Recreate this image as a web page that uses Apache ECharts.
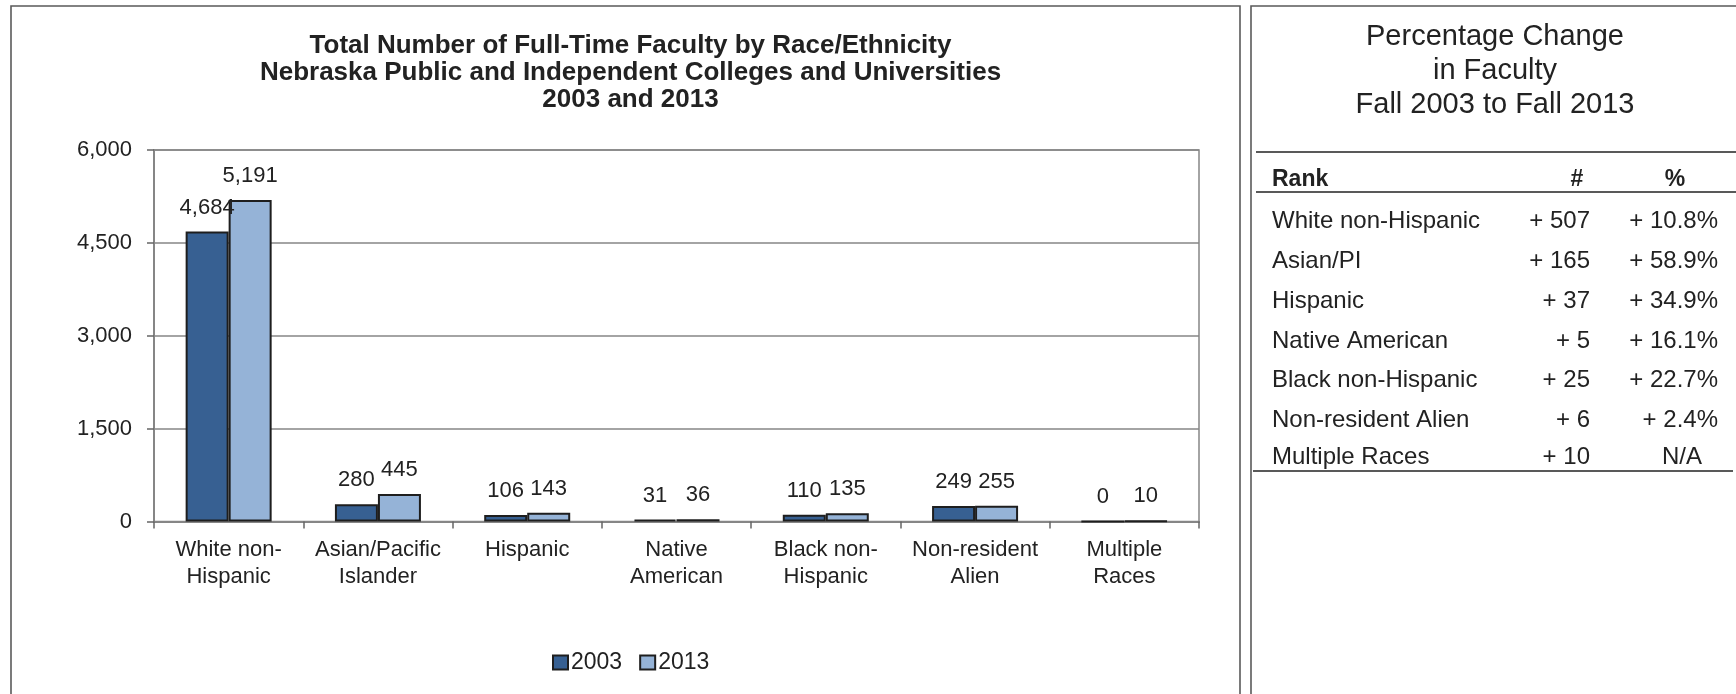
<!DOCTYPE html>
<html>
<head>
<meta charset="utf-8">
<script src="https://cdn.jsdelivr.net/npm/echarts@6/dist/echarts.min.js"></script>
<style>
html,body{margin:0;padding:0;background:#fff;}
#chart{width:1736px;height:694px;}
</style>
</head>
<body>
<div id="chart"></div>
<script>
// ---- data ----
const categories = ["White non-\nHispanic", "Asian/Pacific\nIslander", "Hispanic", "Native\nAmerican", "Black non-\nHispanic", "Non-resident\nAlien", "Multiple\nRaces"];
const seriesNames = ["2003", "2013"];
const values2003 = [4684, 280, 106, 31, 110, 249, 0];
const values2013 = [5191, 445, 143, 36, 135, 255, 10];
const yTicks = [0, 1500, 3000, 4500, 6000];

const chartTitle = ["Total Number of Full-Time Faculty by Race/Ethnicity", "Nebraska Public and Independent Colleges and Universities", "2003 and 2013"];
const tableTitle = ["Percentage Change", "in Faculty", "Fall 2003 to Fall 2013"];
const tableHeader = ["Rank", "#", "%"];
const tableRows = ["White non-Hispanic", "Asian/PI", "Hispanic", "Native American", "Black non-Hispanic", "Non-resident Alien", "Multiple Races"];
const tableChange = [507, 165, 37, 5, 25, 6, 10];
const tablePct = ["10.8", "58.9", "34.9", "16.1", "22.7", "2.4", null];

// ---- rendering ----
const FONT = "'Liberation Sans', Arial, sans-serif";
const TXT = '#222';
const chart = echarts.init(document.getElementById('chart'), null, {renderer: 'canvas'});

const graphics = [];
// panel borders
graphics.push({type: 'rect', shape: {x: 11, y: 6, width: 1229, height: 720}, style: {fill: 'none', stroke: '#5a5a5a', lineWidth: 1.6}, silent: true});
graphics.push({type: 'rect', shape: {x: 1251, y: 6, width: 520, height: 720}, style: {fill: 'none', stroke: '#5a5a5a', lineWidth: 1.6}, silent: true});

// table title
const ttY = [36.7, 70.7, 104.7];
tableTitle.forEach((t, i) => graphics.push({type: 'text', silent: true, style: {text: t, x: 1495, y: ttY[i], textAlign: 'center', textVerticalAlign: 'middle', fontSize: 29, fontFamily: FONT, fill: TXT}}));
// lines
const hline = (y, x1, x2) => graphics.push({type: 'line', silent: true, shape: {x1: x1, y1: y, x2: x2, y2: y}, style: {stroke: '#222', lineWidth: 1.5}});
hline(152, 1256, 1736);
hline(192, 1256, 1736);
hline(471, 1253, 1733);
// header
const hdrStyle = {fontSize: 23, fontWeight: 'bold', fontFamily: FONT, fill: TXT, textVerticalAlign: 'middle'};
graphics.push({type: 'text', silent: true, style: Object.assign({text: tableHeader[0], x: 1272, y: 180, textAlign: 'left'}, hdrStyle)});
graphics.push({type: 'text', silent: true, style: Object.assign({text: tableHeader[1], x: 1577, y: 180, textAlign: 'center'}, hdrStyle)});
graphics.push({type: 'text', silent: true, style: Object.assign({text: tableHeader[2], x: 1675, y: 180, textAlign: 'center'}, hdrStyle)});
// rows
const rowY = [221, 261, 301, 341, 380.5, 420.5, 457];
const rowStyle = {fontSize: 24, fontFamily: FONT, fill: TXT, textVerticalAlign: 'middle'};
tableRows.forEach((r, i) => {
  graphics.push({type: 'text', silent: true, style: Object.assign({text: r, x: 1272, y: rowY[i], textAlign: 'left'}, rowStyle)});
  graphics.push({type: 'text', silent: true, style: Object.assign({text: '+ ' + tableChange[i], x: 1590, y: rowY[i], textAlign: 'right'}, rowStyle)});
  const p = tablePct[i];
  if (p === null) {
    graphics.push({type: 'text', silent: true, style: Object.assign({text: 'N/A', x: 1682, y: rowY[i], textAlign: 'center'}, rowStyle)});
  } else {
    graphics.push({type: 'text', silent: true, style: Object.assign({text: '+ ' + p + '%', x: 1718, y: rowY[i], textAlign: 'right'}, rowStyle)});
  }
});

const labelCfg = {show: true, position: 'top', distance: 13, fontSize: 22, fontFamily: FONT, color: TXT,
  formatter: p => p.value.toLocaleString('en-US')};

chart.setOption({
  animation: false,
  backgroundColor: '#fff',
  textStyle: {fontFamily: FONT},
  title: {
    text: chartTitle.join('\n'),
    left: 625.5, top: 28, textAlign: 'center',
    textStyle: {fontSize: 26, fontWeight: 'bold', fontFamily: FONT, color: TXT, lineHeight: 26.6}
  },
  legend: {
    data: seriesNames, left: 547, top: 646,
    icon: 'rect', itemWidth: 15, itemHeight: 14, itemGap: 17,
    textStyle: {fontSize: 23, fontFamily: FONT, color: TXT, padding: [0, 0, 0, -2]}
  },
  grid: {left: 154, right: 537, top: 150, bottom: 172.5, show: true, borderColor: '#868686', borderWidth: 1.5, containLabel: false},
  xAxis: {
    type: 'category', data: categories,
    axisLine: {lineStyle: {color: '#868686', width: 2}},
    axisTick: {show: true, length: 7, lineStyle: {color: '#666', width: 1.5}},
    axisLabel: {fontSize: 22, fontFamily: FONT, color: TXT, margin: 15, lineHeight: 27, interval: 0}
  },
  yAxis: {
    type: 'value', min: yTicks[0], max: yTicks[yTicks.length - 1], interval: yTicks[1] - yTicks[0],
    axisLine: {show: true, lineStyle: {color: '#868686', width: 2}},
    axisTick: {show: true, length: 7, lineStyle: {color: '#666', width: 1.5}},
    splitLine: {lineStyle: {color: '#868686', width: 1.5}},
    axisLabel: {fontSize: 22, fontFamily: FONT, color: TXT, margin: 22, formatter: v => v.toLocaleString('en-US')}
  },
  series: [
    {name: seriesNames[0], type: 'bar', data: values2003, barWidth: 43, barGap: '0%',
     itemStyle: {color: '#376092', borderColor: '#1e1e1e', borderWidth: 2}, label: labelCfg},
    {name: seriesNames[1], type: 'bar', data: values2013, barWidth: 43, barGap: '0%',
     itemStyle: {color: '#95B3D7', borderColor: '#1e1e1e', borderWidth: 2}, label: labelCfg}
  ],
  graphic: graphics
});
</script>
</body>
</html>
